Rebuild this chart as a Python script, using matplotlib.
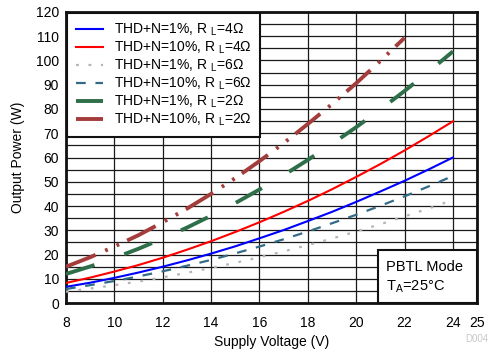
import matplotlib
matplotlib.use("Agg")
import matplotlib.pyplot as plt
from matplotlib.patches import Rectangle

plt.rcParams['font.family'] = ['Liberation Sans', 'DejaVu Sans']
plt.rcParams['mathtext.fontset'] = 'custom'
plt.rcParams['mathtext.rm'] = 'Liberation Sans'
plt.rcParams['lines.scale_dashes'] = False

volts = [8, 9, 10, 11, 12, 13, 14, 15, 16, 17, 18, 19, 20, 21, 22, 23, 24]
p_1pct_4ohm = [6.7, 8.4, 10.4, 12.6, 15.0, 17.6, 20.4, 23.4, 26.7, 30.1, 33.8, 37.6, 41.7, 46.0, 50.4, 55.1, 60.0]
p_10pct_4ohm = [8.3, 10.5, 13.0, 15.7, 18.7, 22.0, 25.5, 29.3, 33.3, 37.6, 42.1, 46.9, 52.0, 57.3, 62.9, 68.8, 74.9]
p_1pct_6ohm = [4.7, 6.0, 7.4, 8.9, 10.6, 12.5, 14.5, 16.6, 18.9, 21.3, 23.9, 26.6, 29.5, 32.5, 35.7, 39.0, 42.5]
p_10pct_6ohm = [5.8, 7.4, 9.1, 11.0, 13.1, 15.4, 17.8, 20.5, 23.3, 26.3, 29.5, 32.9, 36.4, 40.1, 44.0, 48.1, 52.4]
p_1pct_2ohm = [12.0, 15.1, 18.6, 22.4, 26.6, 31.1, 36.0, 41.2, 46.8, 52.7, 59.0, 65.6, 72.5, 79.8, 87.4, 95.4, 103.7]
volts_2ohm_10 = [8, 9, 10, 11, 12, 13, 14, 15, 16, 17, 18, 19, 20, 21, 22]
p_10pct_2ohm = [15.0, 18.9, 23.3, 28.0, 33.3, 38.9, 45.0, 51.5, 58.5, 65.9, 73.8, 82.0, 90.6, 99.8, 109.3]

labels = [
    r'THD+N=1%, R $_{\mathregular{L}}$=4Ω',
    r'THD+N=10%, R $_{\mathregular{L}}$=4Ω',
    r'THD+N=1%, R $_{\mathregular{L}}$=6Ω',
    r'THD+N=10%, R $_{\mathregular{L}}$=6Ω',
    r'THD+N=1%, R $_{\mathregular{L}}$=2Ω',
    r'THD+N=10%, R $_{\mathregular{L}}$=2Ω',
]
xticks = [8, 10, 12, 14, 16, 18, 20, 22, 24, 25]
yticks = [0, 10, 20, 30, 40, 50, 60, 70, 80, 90, 100, 110, 120]

fig = plt.figure(figsize=(4.98, 3.5), dpi=100)
ax = fig.add_axes([0.1325, 0.134, 0.8255, 0.832])

ax.plot(volts, p_1pct_4ohm, color='#0000ff', lw=1.5, label=labels[0], zorder=3)
ax.plot(volts, p_10pct_4ohm, color='#ff0000', lw=1.5, label=labels[1], zorder=3)
ax.plot(volts, p_1pct_6ohm, color='#b4b4b4', lw=1.6, dashes=(2, 7), label=labels[2], zorder=3)
ax.plot(volts, p_10pct_6ohm, color='#336b87', lw=1.6, dashes=(7, 7), label=labels[3], zorder=3)
ax.plot(volts, p_1pct_2ohm, color='#2e6e48', lw=2.8, dashes=(21.5, 22.8), label=labels[4], zorder=3)
ax.plot(volts_2ohm_10, p_10pct_2ohm, color='#a43c3c', lw=2.8, dashes=(23, 7.5, 2, 7, 2, 6.4), label=labels[5], zorder=3)

ax.set_xlim(8, 25)
ax.set_ylim(0, 120)
ax.set_xticks(xticks)
ax.set_yticks(yticks)
ax.set_yticks(range(5, 120, 10), minor=True)
ax.tick_params(which='both', length=0, labelsize=10)
ax.tick_params(axis='x', pad=9)
ax.tick_params(axis='y', pad=5)
ax.grid(True, which='both', color='#1a1a1a', lw=0.9)
ax.set_axisbelow(True)
for s in ax.spines.values():
    s.set_linewidth(2.0)
    s.set_color('#111111')

ax.set_xlabel('Supply Voltage (V)', fontsize=10, labelpad=4)
ax.set_ylabel('Output Power (W)', fontsize=10, labelpad=8)

leg = ax.legend(loc='upper left', fontsize=10, handlelength=2.0, labelspacing=0.12,
                borderaxespad=0.1, fancybox=False, framealpha=1, edgecolor='#111111',
                borderpad=0.6, handletextpad=0.75)
leg.get_frame().set_linewidth(1.5)
leg.set_zorder(5)

x0 = 0.759
ax.add_patch(Rectangle((x0, 0), 1 - x0, 0.182, transform=ax.transAxes,
                       facecolor='white', edgecolor='#111111', lw=1.5, zorder=6, clip_on=False))
ax.text(x0 + 0.02, 0.125, 'PBTL Mode', transform=ax.transAxes, fontsize=10.5, va='center', zorder=7)
ax.text(x0 + 0.02, 0.058, r'T$_{\mathregular{A}}$=25°C', transform=ax.transAxes, fontsize=10.5, va='center', zorder=7)

fig.text(0.935, 0.03, 'D004', fontsize=7, color='#c8c8c8', ha='left', va='center')

fig.savefig('out.png', dpi=100)
